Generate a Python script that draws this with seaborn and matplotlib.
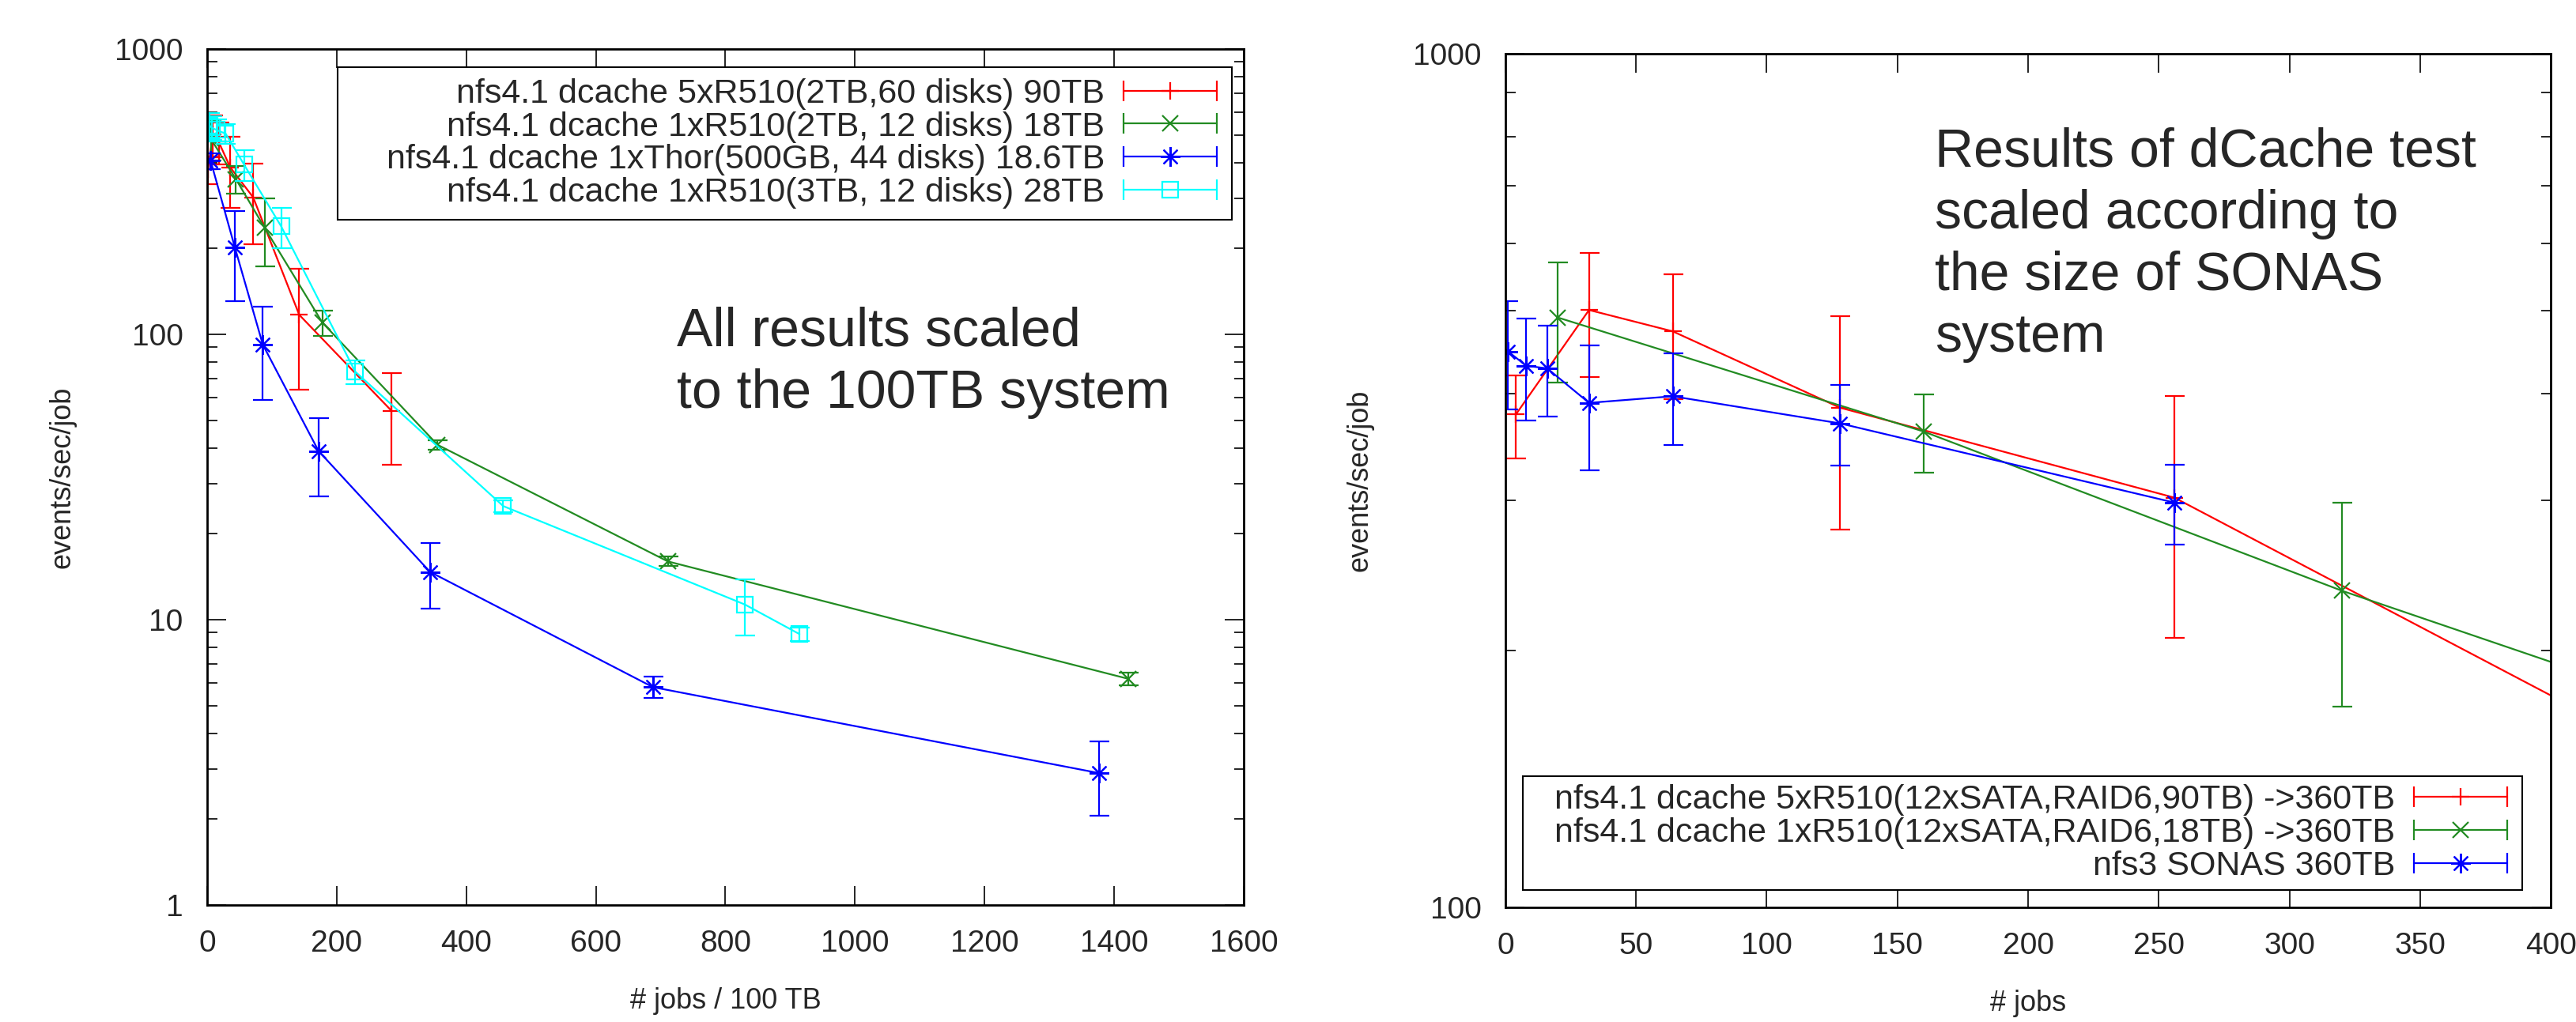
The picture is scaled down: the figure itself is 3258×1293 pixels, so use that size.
import matplotlib
matplotlib.use("Agg")
import matplotlib.pyplot as plt
from matplotlib.lines import Line2D
from matplotlib.patches import Rectangle
from matplotlib.legend_handler import HandlerBase
from matplotlib.ticker import LogLocator, NullFormatter, FuncFormatter
import seaborn as sns

# left panel: results scaled to a 100 TB system (x = jobs / 100 TB)
red_l_x = [1.1, 8.9, 17.8, 35.6, 71.1, 142.2, 284.4]
red_l_y = [378, 501, 473, 385, 302, 117, 54]
red_l_err = [42, 83, 79, 108, 95, 53, 19]

green_l_x = [5.6, 44.4, 88.9, 177.8, 355.6, 711.1, 1422.2]
green_l_y = [485, 350, 236, 110, 41, 16, 6.2]
green_l_err = [79, 38, 63, 11, 1.5, 0.6, 0.3]

blue_l_x = [5.4, 43.0, 86.0, 172.0, 344.1, 688.2, 1376.3]
blue_l_y = [406, 201, 92, 39, 14.7, 5.8, 2.9]
blue_l_err = [26, 70, 33, 12, 3.8, 0.5, 0.85]

cyan_l_x = [3.6, 7.1, 14.3, 28.6, 57.1, 114.3, 228.6, 457.1, 830, 914.3]
cyan_l_y = [540, 530, 520, 505, 393, 239, 74, 25, 11.3, 8.9]
cyan_l_err = [58, 50, 45, 40, 48, 39, 7, 1.2, 2.5, 0.5]

left_labels = ["nfs4.1 dcache 5xR510(2TB,60 disks) 90TB",
               "nfs4.1 dcache 1xR510(2TB, 12 disks) 18TB",
               "nfs4.1 dcache 1xThor(500GB, 44 disks) 18.6TB",
               "nfs4.1 dcache 1xR510(3TB, 12 disks) 28TB"]

# right panel: dCache results scaled to the SONAS size (x = jobs)
red_r_x = [4, 32, 64, 128, 256, 512]
red_r_y = [378, 501, 473, 385, 302, 117]
red_r_err = [42, 83, 79, 108, 95, 53]

green_r_x = [20, 160, 320, 640]
green_r_y = [491, 361, 235, 109]
green_r_err = [79, 38, 63, 11]

blue_r_x = [1, 8, 16, 32, 64, 128, 256]
blue_r_y = [448, 431, 428, 390, 397, 369, 298]
blue_r_err = [65, 59, 52, 65, 49, 40, 32]

right_labels = ["nfs4.1 dcache 5xR510(12xSATA,RAID6,90TB) ->360TB",
                "nfs4.1 dcache 1xR510(12xSATA,RAID6,18TB) ->360TB",
                "nfs3 SONAS 360TB"]

left_xticks = [0, 200, 400, 600, 800, 1000, 1200, 1400, 1600]
right_xticks = [0, 50, 100, 150, 200, 250, 300, 350, 400]

sns.set_theme(style="ticks")
plt.rcParams['font.family'] = ['Liberation Sans', 'DejaVu Sans']

RED, GREEN, BLUE, CYAN = '#ff0000', '#228b22', '#0000ff', '#00ffff'
STAR = (8, 2, 0)
LW = 1.6


class ErrorbarKey(HandlerBase):
    """gnuplot style key: horizontal bar with end caps and the point in the middle"""
    def create_artists(self, legend, orig_handle, xdescent, ydescent,
                       width, height, fontsize, trans):
        y = height / 2 - ydescent
        x0, x1 = -xdescent, width - xdescent
        c = orig_handle.get_color()
        bar = Line2D([x0, x1], [y, y], color=c, lw=LW, marker='|', ms=19, mew=LW)
        mid = Line2D([(x0 + x1) / 2], [y], ls='none', color=c,
                     marker=orig_handle.get_marker(), ms=orig_handle.get_markersize(),
                     mec=c, mfc='none', mew=LW)
        bar.set_transform(trans)
        mid.set_transform(trans)
        return [bar, mid]


def draw(ax, x, y, err, color, marker, ms):
    sns.lineplot(x=x, y=y, ax=ax, color=color, lw=LW, marker=marker, ms=ms,
                 mec=color, mew=LW, mfc='none', sort=False, estimator=None,
                 legend=False)
    ax.errorbar(x, y, yerr=err, fmt='none', ecolor=color, elinewidth=LW,
                capsize=9, capthick=LW)
    return Line2D([], [], color=color, lw=LW, marker=marker, ms=ms)


def style(ax, xlim, ylim, xticks, xlabel):
    ax.set_yscale('log')
    ax.set_xlim(*xlim)
    ax.set_ylim(*ylim)
    ax.set_xticks(xticks)
    ax.yaxis.set_major_locator(LogLocator(base=10))
    ax.yaxis.set_minor_locator(LogLocator(base=10, subs=range(2, 10)))
    ax.yaxis.set_minor_formatter(NullFormatter())
    ax.yaxis.set_major_formatter(FuncFormatter(lambda v, _: f"{v:g}"))
    ax.tick_params(which='both', direction='in', top=True, right=True,
                   labelsize=28, width=1.2, pad=22, color='black')
    ax.tick_params(which='major', length=17)
    ax.tick_params(which='minor', length=9)
    for s in ax.spines.values():
        s.set_linewidth(2)
        s.set_color('black')
    ax.grid(False)
    ax.set_ylabel('events/sec/job', fontsize=26)
    ax.set_xlabel(xlabel, fontsize=26)
    ax.yaxis.set_label_coords(-0.126, 0.5)
    ax.xaxis.set_label_coords(0.5, -0.096)


def key(ax, handles, labels, box, right, ycenter):
    # gnuplot draws the key frame wider than its entries, so the frame is a plain rectangle
    ax.add_patch(Rectangle(box[:2], box[2], box[3], transform=ax.transAxes,
                           facecolor='white', edgecolor='black', lw=1.5, zorder=4))
    leg = ax.legend(handles, labels, loc='center right', bbox_to_anchor=(right, ycenter),
                    markerfirst=False, handler_map={Line2D: ErrorbarKey()}, fontsize=31,
                    frameon=False, handlelength=2.75, handletextpad=0.55,
                    labelspacing=0.04, borderpad=0, borderaxespad=0)
    leg.set_zorder(5)


fig = plt.figure(figsize=(32.58, 12.93), dpi=100)
ax1 = fig.add_axes([0.0804, 0.1145, 0.4024, 0.8376])
ax2 = fig.add_axes([0.5844, 0.1121, 0.4058, 0.8353])

h1 = [draw(ax1, red_l_x, red_l_y, red_l_err, RED, '+', 16),
      draw(ax1, green_l_x, green_l_y, green_l_err, GREEN, 'x', 15),
      draw(ax1, blue_l_x, blue_l_y, blue_l_err, BLUE, STAR, 18),
      draw(ax1, cyan_l_x, cyan_l_y, cyan_l_err, CYAN, 's', 15)]
style(ax1, (0, 1600), (1, 1000), left_xticks, '# jobs / 100 TB')

h2 = [draw(ax2, red_r_x, red_r_y, red_r_err, RED, '+', 16),
      draw(ax2, green_r_x, green_r_y, green_r_err, GREEN, 'x', 15),
      draw(ax2, blue_r_x, blue_r_y, blue_r_err, BLUE, STAR, 18)]
style(ax2, (0, 400), (100, 1000), right_xticks, '# jobs')

key(ax1, h1, left_labels, (0.1259, 0.8006, 0.8627, 0.1782), 0.9741, 0.8897)
key(ax2, h2, right_labels, (0.0166, 0.0204, 0.9562, 0.1333), 0.9584, 0.087)

fig.text(0.2627, 0.700, "All results scaled\nto the 100TB system", fontsize=49,
         ha='left', va='top', linespacing=1.28)
fig.text(0.751, 0.8755, "Results of dCache test\nscaled according to\nthe size of SONAS\nsystem",
         fontsize=49, ha='left', va='top', linespacing=1.28)

fig.savefig('out.png', dpi=100)
